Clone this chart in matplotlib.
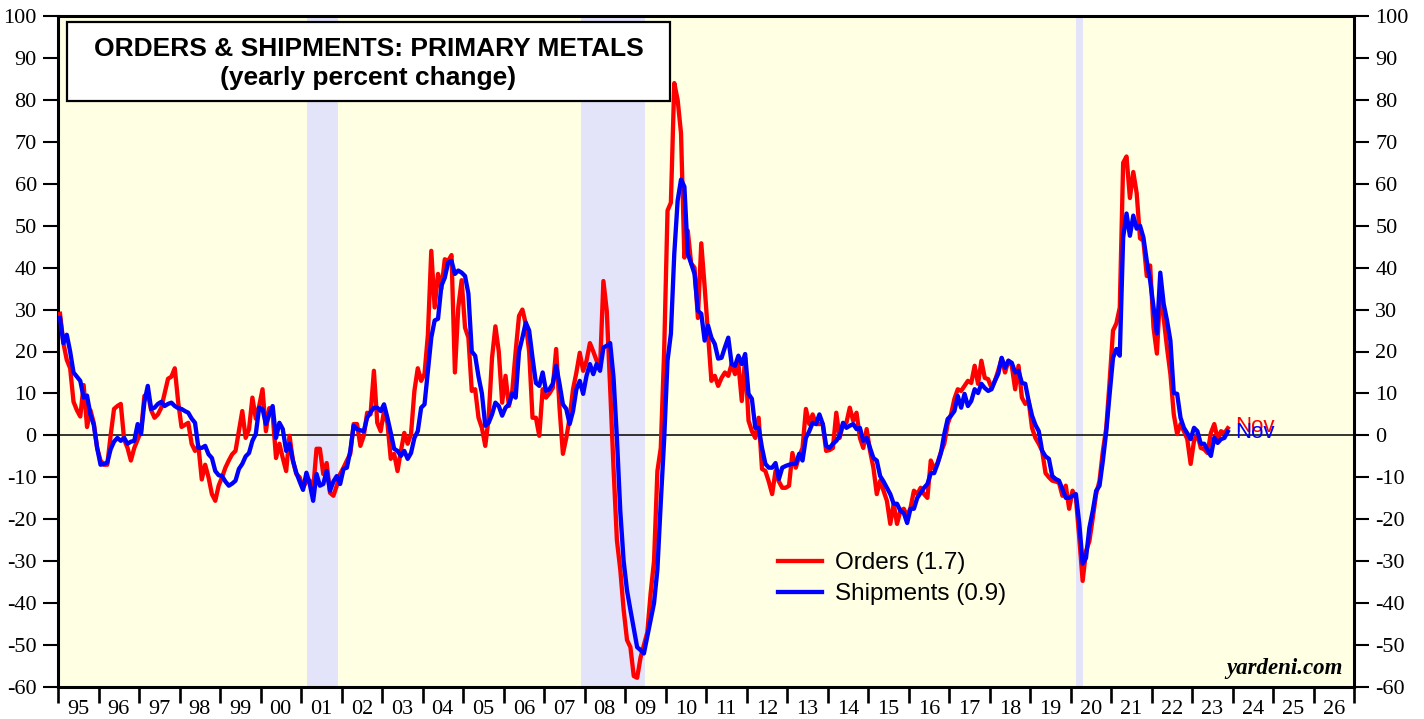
import numpy as np
import matplotlib
matplotlib.use("Agg")
import matplotlib.pyplot as plt
from matplotlib.patches import Rectangle

# ---------------- data (monthly, Jan 1995 - Nov 2023, yearly % change) ----------------
orders = [
    29, 22, 18, 16, 8, 6, 4.5, 12, 2, 6, 3, -3,                      # 1995
    -6, -7, -7, 0, 6.3, 7, 7.5, -1, -3, -6, -3, -1,                  # 1996
    1, 9.4, 10, 6, 4.2, 5, 6.6, 10, 13.5, 14, 16, 8,                 # 1997
    2, 2.5, 3, -2, -3.7, -2.5, -10.5, -7, -10, -14, -15.6, -12,      # 1998
    -10, -7.7, -6, -4.5, -3.7, 1, 5.8, -0.6, 1.5, 9, 4, 7,           # 1999
    11, 1, 6.5, 5, -5.4, -2, -5.4, -8.5, -0.1, -6, -9.2, -10,        # 2000
    -12.5, -11, -10.8, -13, -3.2, -3.2, -9.2, -6.6, -13.7, -14.4, -12, -9.2,  # 2001
    -7.7, -6, -4.4, 2.7, 2.7, -2.5, -0.1, 5.4, 5, 15.4, 3, 1,        # 2002
    5.8, 3, -5.6, -4.4, -8.5, -3.7, 0.6, -2, 0.3, 10.6, 16, 13,      # 2003
    14.7, 24, 44, 30.5, 38.5, 35, 42, 41.6, 43, 15, 30.5, 37,        # 2004
    25.7, 23.3, 10.6, 11, 4.2, 1.8, -2.5, 4.2, 18.5, 26, 20, 7.8,    # 2005
    14.2, 7, 10.6, 20, 28.5, 30, 26.6, 20, 4.2, 4.2, -0.1, 11,       # 2006
    9, 10, 11.3, 20.6, 6.6, -4.4, -0.6, 4.2, 11, 15, 19.7, 15.4,     # 2007
    17.8, 22, 20, 17.8, 16, 36.8, 29.7, 11.3, -7.8, -25, -32, -41.6, # 2008
    -48.8, -50.5, -57.4, -57.8, -53, -50, -47, -37.6, -30, -8.5, -3, 20,  # 2009
    53.6, 55.5, 84, 80, 72, 42.4, 48.8, 41, 40, 28, 45.8, 35.4,      # 2010
    24.3, 13, 14.2, 11.8, 13.7, 15, 14.2, 17, 14.6, 17, 8.2, 18.5,   # 2011
    3.5, 1, -0.6, 4.2, -8, -8.5, -11, -14, -8.5, -11, -12.5, -12.5,  # 2012
    -12, -4.2, -7.7, -5, -3, 6.3, 2.7, 5, 2.7, 2.7, 2.7, -3.7,       # 2013
    -3.5, -3, 5.4, -0.6, 2.7, 3, 6.6, 3.5, 5.4, -0.6, -3, 1.5,       # 2014
    -3.7, -7.7, -14, -10.8, -13.2, -15.6, -21.1, -16.3, -21.1, -18, -17.5, -19.2,  # 2015
    -17.3, -13.2, -14, -12.5, -14, -14.9, -6, -8, -6.6, -4, -2, 2.7, # 2016
    5, 8.7, 11, 10.6, 11.8, 13, 12.5, 16.6, 12.3, 17.8, 13.7, 13.4,  # 2017
    11.3, 13, 15.5, 18.3, 15, 17.8, 16.6, 11, 16.6, 9, 7.5, 8.2,     # 2018
    1.8, -0.6, -2, -3.7, -9, -10, -10.8, -11, -11.3, -14.4, -12, -17.5,  # 2019
    -13.2, -14.9, -24.5, -34.7, -27.6, -25.2, -19.7, -14, -10.8, -3.7, 1.8, 13,  # 2020
    25, 26.7, 30.5, 65, 66.5, 56.6, 62.8, 57.8, 47, 46.4, 38, 40.5,  # 2021
    25.7, 19.5, 34.5, 28, 20.9, 14.6, 5, 0.3, 2.7, 1, -0.9, -6.8,    # 2022
    -1.3, 0.3, -3, -3.3, -4.2, 0.6, 2.7, -0.9, 1, 0.5, 1.7,          # 2023 (Jan-Nov)
]

shipments = [
    28, 22, 24, 20, 15, 14, 13, 9, 9.5, 5, 2.5, -3,                  # 1995
    -7, -6.8, -6.5, -3.3, -1.5, -0.6, -1.3, -0.6, -2, -1.5, -1.3, 2.7,  # 1996
    0.3, 8, 11.8, 6.3, 6.6, 7.5, 8, 7, 7.5, 7.8, 7, 6.5,             # 1997
    6.3, 5.8, 5.4, 4, 3, -3, -3, -2.5, -4.5, -5.4, -8.5, -9.5,       # 1998
    -9.7, -11, -12, -11.5, -10.8, -8, -6.8, -5, -4.2, -1.3, 0.3, 6.6,  # 1999
    6.3, 2.7, 5, 7, -0.6, 3, 1.5, -3.7, -2, -6, -8.9, -11,           # 2000
    -13, -8.9, -11.6, -15.6, -9.2, -12, -11.6, -8.5, -13.2, -11, -9.7, -11.6,  # 2001
    -8, -7.7, -3.7, 2.3, 1.5, 1.2, 1, 4.2, 5.5, 6.6, 6.6, 5.8,       # 2002
    7.4, 4.2, 0.6, -3.2, -3.7, -4.9, -3.7, -5.6, -4.2, -0.6, 1, 6.6, # 2003
    7.4, 15.4, 23.3, 27.4, 27.8, 35.7, 37.6, 41.2, 41.6, 38.5, 39.3, 38.8,  # 2004
    38, 33.8, 20, 19, 14, 10, 2.3, 3, 5, 7.8, 7, 4.7,                # 2005
    6.6, 7.4, 10, 9, 20, 23.3, 26.9, 25, 18.5, 12.5, 11.8, 15,       # 2006
    10.6, 11, 12.3, 16.6, 12.3, 7.4, 6.3, 2.7, 5.8, 11, 13, 9.9,     # 2007
    14.2, 17, 14.6, 17, 15.4, 20.9, 21.4, 22, 13.8, -0.6, -18, -30,  # 2008
    -37, -41.6, -46, -50.5, -51.2, -52, -48, -44, -40, -32, -16, -1, # 2009
    17.8, 24.3, 43.3, 56, 61, 59.3, 43.3, 41, 38.5, 29.7, 29, 22.6,  # 2010
    26.2, 23.3, 21.8, 18.3, 18.5, 21, 23.3, 17, 16.6, 19, 17, 19.4,  # 2011
    9.9, 8.7, 1.8, 1.8, -3, -6.8, -7.7, -7.7, -6.6, -10.4, -7.7, -7.3,  # 2012
    -7, -6.8, -6.8, -4.4, -6, -0.6, 1, 3, 2.7, 5, 2.7, -2.5,         # 2013
    -3, -2, -1.3, -0.1, 3, 1.8, 2.3, 2.7, 1.5, 1.8, -1.3, -0.6,      # 2014
    -3, -5.4, -6, -9.7, -11, -12.5, -14, -16.3, -16.3, -18, -18.5, -20.9,  # 2015
    -17.5, -17.5, -14.9, -13.7, -12.5, -11.6, -9, -9, -6.8, -4.2, 0.3, 3.9,  # 2016
    4.7, 5.8, 9.4, 6.6, 9.9, 7, 8.2, 11, 10.1, 12.3, 11.3, 10.6,     # 2017
    11, 13, 14.7, 18.5, 16.1, 17.8, 17.3, 15, 15.4, 12.5, 12.3, 8.2, # 2018
    4.7, 2.5, 1, -3.7, -5, -5.6, -9.7, -10.4, -10.8, -12.8, -14.9, -14.9,  # 2019
    -14.4, -14, -21, -30.6, -29.2, -22, -18, -13.2, -12, -6, 1, 9.9, # 2020
    18.5, 20.6, 19, 47.2, 52.9, 47.6, 52.4, 49.3, 50, 47.2, 41.6, 36.9,  # 2021
    30.5, 24.3, 38.8, 31.4, 27.4, 22.6, 10.1, 9.9, 4.2, 1.8, 0.5, -0.9,  # 2022
    1.8, 1, -2, -2, -3.5, -4.9, -0.6, -1.8, -0.9, -0.6, 0.9,         # 2023 (Jan-Nov)
]

first_year = 1995
orders_label = "Orders (1.7)"
shipments_label = "Shipments (0.9)"
last_month_label = "Nov"

recession_starts = [2001.15, 2007.91, 2020.14]
recession_ends = [2001.91, 2009.49, 2020.31]

year_ticks = list(range(1995, 2028))
year_labels = ["95", "96", "97", "98", "99", "00", "01", "02", "03", "04", "05",
               "06", "07", "08", "09", "10", "11", "12", "13", "14", "15", "16",
               "17", "18", "19", "20", "21", "22", "23", "24", "25", "26"]
y_ticks = list(range(-60, 101, 10))

title_line1 = "ORDERS & SHIPMENTS: PRIMARY METALS"
title_line2 = "(yearly percent change)"
source_text = "yardeni.com"

# ---------------- figure ----------------
n = len(orders)
months = np.arange(n)
t = first_year + (months + 0.6) / 12.0

W, H = 1424, 719
fig = plt.figure(figsize=(W / 100, H / 100), dpi=100)
fig.patch.set_facecolor("white")
ax = fig.add_axes([58 / W, 32 / H, 1296 / W, 671 / H])
ax.set_facecolor("#FFFFE4")
ax.set_xlim(1995, 2027)
ax.set_ylim(-60, 100)

for s, e in zip(recession_starts, recession_ends):
    ax.axvspan(s, e, color="#E3E3FA", lw=0, zorder=0.5)

ax.axhline(0, color="black", lw=1.1, zorder=1)

l1, = ax.plot(t, orders, color="#FF0000", lw=3.1, zorder=3, solid_joinstyle="round",
              label=orders_label)
l2, = ax.plot(t, shipments, color="#0000FF", lw=3.1, zorder=4, solid_joinstyle="round",
              label=shipments_label)

# end labels
ax.annotate(last_month_label, xy=(t[-1], orders[-1]), xytext=(5, 1), textcoords="offset points",
            va="center", ha="left", color="#FF0000", fontsize=16, family="Liberation Sans", zorder=5)
ax.annotate(last_month_label, xy=(t[-1], shipments[-1]), xytext=(5, -1), textcoords="offset points",
            va="center", ha="left", color="#0000FF", fontsize=16, family="Liberation Sans", zorder=6)

# spines
for sp in ax.spines.values():
    sp.set_linewidth(2.2)
    sp.set_color("black")

# y ticks both sides
ax.set_yticks(y_ticks)
ax.set_yticklabels([str(v) for v in y_ticks])
ax.tick_params(axis="y", which="major", direction="out", length=10.8, width=1.5,
               left=True, right=True, labelleft=True, labelright=True, pad=4.5,
               labelsize=16)
for lab in ax.get_yticklabels():
    lab.set_family("Liberation Serif")

# x ticks: boundaries as major ticks, labels centered between them
ax.set_xticks(year_ticks)
ax.set_xticklabels([""] * len(year_ticks))
ax.tick_params(axis="x", which="major", direction="out", length=11.5, width=1.9)
ax.set_xticks([y + 0.5 for y in year_ticks[:-1]], minor=True)
ax.set_xticklabels(year_labels, minor=True)
ax.tick_params(axis="x", which="minor", length=0, pad=9, labelsize=16)
for lab in ax.get_xticklabels(minor=True):
    lab.set_family("Liberation Serif")

# title box
ax.add_patch(Rectangle((0.0069, 0.8733), 0.4653, 0.1178, transform=ax.transAxes,
                       facecolor="white", edgecolor="black", lw=1.6, zorder=7))
ax.text(0.2396, 0.9515, title_line1, transform=ax.transAxes, ha="center", va="center",
        fontsize=19, fontweight="bold", family="Liberation Sans", zorder=8)
ax.text(0.2396, 0.9076, title_line2, transform=ax.transAxes, ha="center", va="center",
        fontsize=19, fontweight="bold", family="Liberation Sans", zorder=8)

# legend
leg = ax.legend(handles=[l1, l2], loc="upper left", bbox_to_anchor=(0.5556, 0.201),
                frameon=False, borderpad=0, borderaxespad=0, handlelength=1.8,
                handletextpad=0.53, labelspacing=0.38,
                prop={"family": "Liberation Sans", "size": 17.5})
leg.set_zorder(9)

# source
ax.text(0.9915, 0.012, source_text, transform=ax.transAxes, ha="right", va="bottom",
        fontsize=16.5, fontweight="bold", fontstyle="italic", family="Liberation Serif", zorder=8)

fig.savefig("out.png", dpi=100)
